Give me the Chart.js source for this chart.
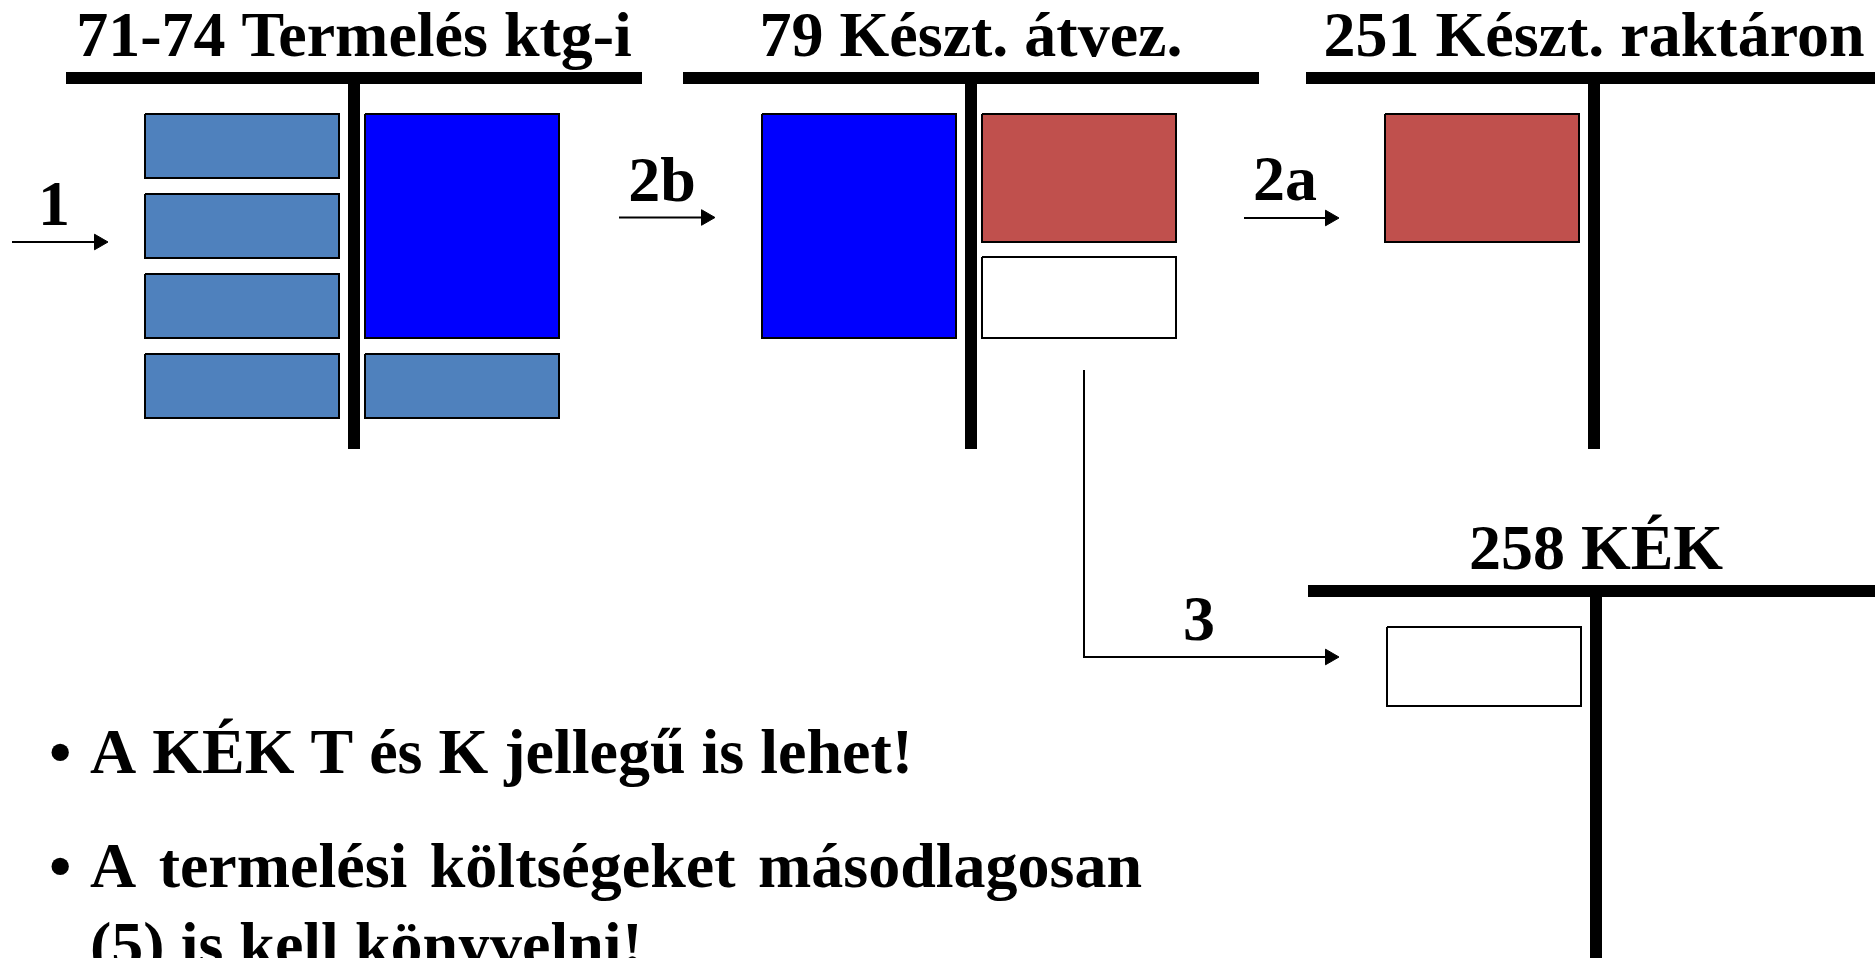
<!DOCTYPE html>
<html>
<head>
<meta charset="utf-8">
<script src="https://cdn.jsdelivr.net/npm/chart.js@4.4.0/dist/chart.umd.min.js"></script>
<style>
    html, body { margin: 0; padding: 0; background: #fff; overflow: hidden; }
    #wrap { width: 1875px; height: 958px; }
</style>
</head>
<body>
<div id="wrap"><canvas id="diagram"></canvas></div>
<script>
// ===== Data =====
// T-accounts
const accountNames = ['71-74 Termelés ktg-i', '79 Készt. átvez.', '251 Készt. raktáron', '258 KÉK'];

// entries on the accounts: account, side (T = tartozik / left, K = követel / right), amount range, kind
const entryAccount = [0, 0, 0, 0, 0, 0, 1, 1, 1, 2, 3];
const entrySide    = ['T', 'T', 'T', 'T', 'K', 'K', 'T', 'K', 'K', 'T', 'T'];
const entryFrom    = [30, 110, 190, 270, 30, 270, 30, 30, 173, 30, 30];
const entryTo      = [94, 174, 254, 334, 254, 334, 254, 158, 254, 158, 109];
const entryKind    = ['cost', 'cost', 'cost', 'cost', 'product', 'cost', 'product', 'finished', 'kek', 'finished', 'kek'];

// bookings
const flowLabels = ['1', '2b', '2a', '3'];

// notes under the diagram
const notes = ['A KÉK T és K jellegű is lehet!', 'A termelési költségeket másodlagosan (5) is kell könyvelni!'];

// ===== Layout =====
const W = 1875, H = 958;
const accX = [354, 971, 1594, 1596];      // stem centre
const accTop = [84, 84, 84, 597];         // lower edge of header bar
const accStemEnd = [449, 449, 449, 980];
const barHalf = 288, lineW = 12;
const debitGap = 15, creditGap = 11, boxW = 194;
const kindColor = { cost: '#4F81BD', product: '#0000FF', finished: '#C0504D', kek: '#FFFFFF' };

// arrow geometry (last point = tip) and label centre / baseline
const arrowPaths = [
    [[12, 242], [108, 242]],
    [[619, 217.5], [715, 217.5]],
    [[1244, 218], [1339, 218]],
    [[1084, 370], [1084, 657], [1339, 657]]
];
const arrowLabelPos = [[54, 225], [662, 201], [1285, 200], [1199, 640]];
const headR = 9;

const FONT = 'bold 64px "Liberation Serif", "Times New Roman", serif';

// ===== Datasets =====
const datasets = [];

accountNames.forEach((name, i) => {
    datasets.push({
        data: [{ x: accX[i] - barHalf, y: accTop[i] - lineW / 2 }, { x: accX[i] + barHalf, y: accTop[i] - lineW / 2 }],
        borderColor: '#000', borderWidth: lineW, pointRadius: 0, fill: false
    });
    datasets.push({
        data: [{ x: accX[i], y: accTop[i] - lineW }, { x: accX[i], y: accStemEnd[i] }],
        borderColor: '#000', borderWidth: lineW, pointRadius: 0, fill: false
    });
});

entryAccount.forEach((a, i) => {
    const x0 = entrySide[i] === 'T' ? accX[a] - debitGap - boxW : accX[a] + creditGap;
    const x1 = x0 + boxW;
    const y0 = accTop[a] + entryFrom[i];
    const y1 = accTop[a] + entryTo[i];
    datasets.push({
        data: [{ x: x0, y: y0 }, { x: x1, y: y0 }, { x: x1, y: y1 }, { x: x0, y: y1 }, { x: x0, y: y0 }],
        borderColor: '#000', borderWidth: 2, backgroundColor: kindColor[entryKind[i]],
        fill: 'shape', pointRadius: 0, tension: 0
    });
});

flowLabels.forEach((lbl, i) => {
    const path = arrowPaths[i].map(p => ({ x: p[0], y: p[1] }));
    path[path.length - 1].x -= headR;
    datasets.push({
        data: path,
        borderColor: '#000', borderWidth: 2, fill: false,
        pointRadius: path.map((p, k) => k === path.length - 1 ? headR : 0),
        pointStyle: 'triangle', rotation: 90,
        pointBackgroundColor: '#000', pointBorderColor: '#000', pointBorderWidth: 1
    });
});

// ===== Text plugin =====
const diagramText = {
    id: 'diagramText',
    afterDatasetsDraw(chart) {
        const { ctx, scales: { x, y } } = chart;
        ctx.save();
        ctx.fillStyle = '#000';
        ctx.font = FONT;
        ctx.textBaseline = 'alphabetic';

        ctx.textAlign = 'center';
        accountNames.forEach((name, i) => {
            ctx.fillText(name, x.getPixelForValue(accX[i]), y.getPixelForValue(accTop[i] - 28));
        });
        flowLabels.forEach((lbl, i) => {
            ctx.fillText(lbl, x.getPixelForValue(arrowLabelPos[i][0]), y.getPixelForValue(arrowLabelPos[i][1]));
        });

        // bullet notes, justified like the slide
        ctx.textAlign = 'left';
        const left = 90, maxW = 1052, lineH = 79, paraGap = 114;
        const space = ctx.measureText(' ').width;
        let base = 773;
        notes.forEach(note => {
            ctx.fillText('•', x.getPixelForValue(49), y.getPixelForValue(base));
            const words = note.split(' ');
            const lines = [];
            let cur = [];
            words.forEach(w => {
                const test = cur.concat(w).join(' ');
                if (cur.length && ctx.measureText(test).width > maxW) { lines.push(cur); cur = [w]; }
                else cur.push(w);
            });
            lines.push(cur);
            lines.forEach((ln, li) => {
                const last = li === lines.length - 1;
                const wordsW = ln.reduce((s, w) => s + ctx.measureText(w).width, 0);
                const gap = last || ln.length < 2 ? space : (maxW - wordsW) / (ln.length - 1);
                let px = left;
                ln.forEach(w => {
                    ctx.fillText(w, x.getPixelForValue(px), y.getPixelForValue(base));
                    px += ctx.measureText(w).width + gap;
                });
                if (!last) base += lineH;
            });
            base += paraGap;
        });
        ctx.restore();
    }
};

// ===== Chart =====
new Chart(document.getElementById('diagram'), {
    type: 'line',
    data: { datasets },
    options: {
        responsive: true,
        maintainAspectRatio: false,
        animation: false,
        events: [],
        layout: { padding: 0, autoPadding: false },
        plugins: { legend: { display: false }, tooltip: { enabled: false } },
        scales: {
            x: { type: 'linear', min: 0, max: W, display: false },
            y: { type: 'linear', min: 0, max: H, reverse: true, display: false }
        }
    },
    plugins: [diagramText]
});
</script>
</body>
</html>
